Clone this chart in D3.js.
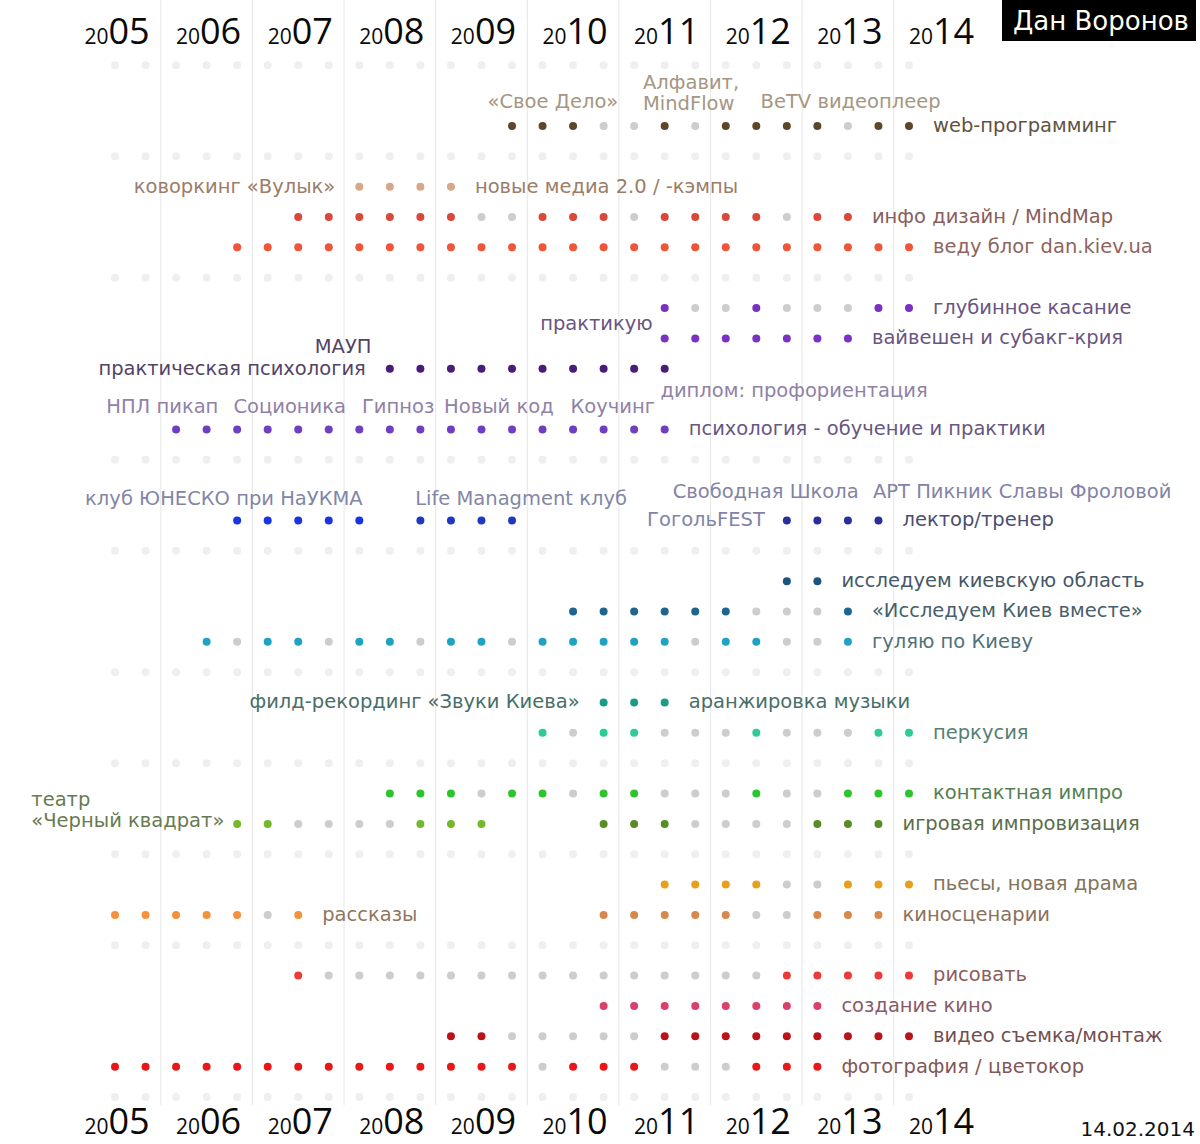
<!DOCTYPE html>
<html>
<head>
<meta charset="utf-8">
<script src="https://cdn.jsdelivr.net/npm/d3@7/dist/d3.min.js"></script>
<style>
  body { margin: 0; background: #fff; }
  svg { display: block; }
</style>
</head>
<body>
<svg id="chart"></svg>
<script>
const width = 1200;
const height = 1144;

// time axis: every year is split in three parts, data starts with 2005.2
const periods = [
    "2005.2", "2005.3",
    "2006.1", "2006.2", "2006.3",
    "2007.1", "2007.2", "2007.3",
    "2008.1", "2008.2", "2008.3",
    "2009.1", "2009.2", "2009.3",
    "2010.1", "2010.2", "2010.3",
    "2011.1", "2011.2", "2011.3",
    "2012.1", "2012.2", "2012.3",
    "2013.1", "2013.2", "2013.3",
    "2014.1"
];
const years = ["2005", "2006", "2007", "2008", "2009", "2010", "2011", "2012", "2013", "2014"];

// rows that only show the faint background dots
const blankRows = [0, 3, 7, 13, 16, 20, 23, 26, 29, 34];

// one entry per segment: x = active, o = paused
const segRow = [2, 4, 5, 6, 8, 9, 10, 12, 15, 15, 15, 17, 18, 19, 21, 22, 24, 25, 25, 27, 28, 28, 30, 31, 32, 33];
const segStart = [
    "2009.3", "2008.1", "2007.2", "2006.3", "2011.2", "2011.2", "2008.2", "2006.1",
    "2006.3", "2008.3", "2012.3", "2012.3", "2010.2", "2006.2", "2010.3", "2010.1",
    "2008.2", "2006.3", "2010.3", "2011.2", "2005.2", "2010.3", "2007.2", "2010.3",
    "2009.1", "2005.2"
];
const segMarks = [
    "xxxooxoxxxxoxx",
    "xxxx",
    "xxxxxxooxxxoxxxxoxx",
    "xxxxxxxxxxxxxxxxxxxxxxx",
    "xooxoooxx",
    "xxxxxxx",
    "xxxxxxxxxx",
    "xxxxxxxxxxxxxxxxx",
    "xxxxx",
    "xxxx",
    "xxxx",
    "xx",
    "xxxxxxooox",
    "xoxxoxxoxxoxxxxxoxxoox",
    "xxx",
    "xoxxoooxoooxx",
    "xxxoxxoxxoooxooxxx",
    "xxooooxxx",
    "xxxooooxxx",
    "xxxxooxxx",
    "xxxxxox",
    "xxxxxooxxx",
    "xoooooooooooooooxxxxx",
    "xxxxxxxx",
    "xxoooooxxxxxxxxx",
    "xxxxxxxxxxxxxxoxxxoooxxx"
];
const segLeft = [
    "", "коворкинг «Вулык»", "", "", "", "", "практическая психология", "",
    "", "", "", "", "", "", "филд-рекординг «Звуки Киева»", "",
    "", "", "", "", "", "", "", "", "", ""
];
const segRight = [
    "web-программинг", "новые медиа 2.0 / -кэмпы", "инфо дизайн / MindMap", "веду блог dan.kiev.ua",
    "глубинное касание", "вайвешен и субакг-крия", "", "психология - обучение и практики",
    "", "", "лектор/тренер", "исследуем киевскую область", "«Исследуем Киев вместе»",
    "гуляю по Киеву", "аранжировка музыки", "перкусия", "контактная импро", "",
    "игровая импровизация", "пьесы, новая драма", "рассказы", "киносценарии", "рисовать",
    "создание кино", "видео съемка/монтаж", "фотография / цветокор"
];
const segColors = [
    "#5e4628", "#d6a888", "#d9483a", "#ef5538", "#7b30c4", "#7b32c4", "#4a1c78", "#6f3ec2",
    "#1a34e0", "#2038c0", "#2a2e98", "#1c5480", "#1e6690", "#20a2c2", "#1a9a88", "#2ccb98",
    "#2ec42e", "#74b82c", "#5a8c26", "#e8a01c", "#f5913c", "#d8884a", "#ea3a3a", "#d9406a",
    "#b8141a", "#e81818"
];

// side notes, placed in column / row units
const noteText = [
    "«Свое Дело»", "Алфавит,\nMindFlow", "BeTV видеоплеер", "МАУП", "практикую",
    "диплом: профориентация", "НПЛ пикап", "Соционика", "Гипноз", "Новый код", "Коучинг",
    "клуб ЮНЕСКО при НаУКМА", "Life Managment клуб", "Свободная Школа",
    "АРТ Пикник Славы Фроловой", "ГогольFEST", "театр\n«Черный квадрат»"
];
const noteCol = [14.34, 17.29, 21.14, 8.4, 17.61, 17.86, 1.55, 5.72, 9.27, 12.57, 16.3, 8.11, 9.83, 18.26, 24.82, 21.28, -2.74];
const noteRow = [1.23, 1.28, 1.23, 9.29, 8.52, 10.74, 11.27, 11.27, 11.27, 11.27, 11.27, 14.29, 14.29, 14.07, 14.07, 15, 24.9];
const noteAnchor = ["middle", "start", "start", "end", "end", "start", "middle", "middle", "middle", "middle", "middle", "end", "start", "start", "start", "end", "start"];
const noteSeg = [0, 0, 0, 6, 5, 7, 7, 7, 7, 7, 7, 8, 9, 10, 10, 10, 17];
const noteLight = [true, true, true, false, false, true, true, true, true, true, true, true, true, true, true, true, false];

const author = "Дан Воронов";
const dateText = "14.02.2014";

const labelFont = "'DejaVu Sans', sans-serif";
const labelSize = 19.5;
const labelGap = 24;
const dotRadius = 4;

const x = d3.scaleLinear()
    .domain([0, periods.length - 1])
    .range([115, 909]);

const y = d3.scaleLinear()
    .domain([0, 34])
    .range([65.3, 1097]);

const col = p => periods.indexOf(p);

// labels are greyed versions of the dot colour
function mainTone(c) {
    const h = d3.hsl(c);
    return d3.hsl(h.h, 0.2, 0.2 + 0.45 * h.l).formatHex();
}
function lightTone(c) {
    const h = d3.hsl(c);
    return d3.hsl(h.h, 0.17, 0.58).formatHex();
}

const svg = d3.select("#chart")
    .attr("width", width)
    .attr("height", height)
    .attr("viewBox", [0, 0, width, height]);

// year separators
svg.append("g")
    .selectAll("line")
    .data(years.slice(0, -1))
    .join("line")
    .attr("x1", (d, i) => x(i * 3 + 1.5))
    .attr("x2", (d, i) => x(i * 3 + 1.5))
    .attr("y1", 0)
    .attr("y2", 1105)
    .attr("stroke", "#e6e6e6")
    .attr("stroke-width", 1);

// faint background rows
const blankDots = blankRows.flatMap(r => periods.map((p, i) => ({ r, i })));
svg.append("g")
    .selectAll("circle")
    .data(blankDots)
    .join("circle")
    .attr("cx", d => x(d.i))
    .attr("cy", d => y(d.r))
    .attr("r", dotRadius)
    .attr("fill", "#efefef");

// activity dots
const segDots = segMarks.flatMap((m, s) => m.split("").map((ch, k) => ({
    s, on: ch === "x", c: col(segStart[s]) + k
})));
svg.append("g")
    .selectAll("circle")
    .data(segDots)
    .join("circle")
    .attr("cx", d => x(d.c))
    .attr("cy", d => y(segRow[d.s]))
    .attr("r", dotRadius)
    .attr("fill", d => d.on ? segColors[d.s] : "#cdcdcd");

const labels = svg.append("g")
    .attr("font-family", labelFont)
    .attr("font-size", labelSize);

// labels at the ends of each segment
segMarks.forEach((m, s) => {
    const first = col(segStart[s]);
    const last = first + m.length - 1;
    if (segLeft[s]) {
        labels.append("text")
            .attr("x", x(first) - labelGap)
            .attr("y", y(segRow[s]))
            .attr("dy", "0.3em")
            .attr("text-anchor", "end")
            .attr("fill", mainTone(segColors[s]))
            .text(segLeft[s]);
    }
    if (segRight[s]) {
        labels.append("text")
            .attr("x", x(last) + labelGap)
            .attr("y", y(segRow[s]))
            .attr("dy", "0.3em")
            .attr("fill", mainTone(segColors[s]))
            .text(segRight[s]);
    }
});

// free notes (multi-line ones grow upwards)
noteText.forEach((t, n) => {
    const lines = t.split("\n");
    const c = segColors[noteSeg[n]];
    const txt = labels.append("text")
        .attr("text-anchor", noteAnchor[n])
        .attr("fill", noteLight[n] ? lightTone(c) : mainTone(c));
    lines.forEach((line, k) => {
        txt.append("tspan")
            .attr("x", x(noteCol[n]))
            .attr("y", y(noteRow[n]) - (lines.length - 1 - k) * 21)
            .attr("dy", "0.3em")
            .text(line);
    });
});

// year headers, top and bottom
[43.5, 1134].forEach(baseY => {
    const yr = svg.append("g")
        .attr("font-family", "'Open Sans', sans-serif")
        .attr("fill", "#0a0a0a")
        .selectAll("text")
        .data(years)
        .join("text")
        .attr("x", (d, i) => x(i * 3) + 2)
        .attr("y", baseY)
        .attr("text-anchor", "middle");
    yr.append("tspan")
        .attr("font-size", 21)
        .text(d => d.slice(0, 2));
    yr.append("tspan")
        .attr("font-size", 36)
        .text(d => d.slice(2));
});

// author badge
svg.append("rect")
    .attr("x", 1002)
    .attr("y", 0)
    .attr("width", 194)
    .attr("height", 41)
    .attr("fill", "#000");
svg.append("text")
    .attr("x", 1013)
    .attr("y", 29.5)
    .attr("font-family", labelFont)
    .attr("font-size", 26)
    .attr("fill", "#fffff4")
    .text(author);

svg.append("text")
    .attr("x", 1195)
    .attr("y", 1136)
    .attr("text-anchor", "end")
    .attr("font-family", labelFont)
    .attr("font-size", 20)
    .attr("fill", "#111")
    .text(dateText);
</script>
</body>
</html>
